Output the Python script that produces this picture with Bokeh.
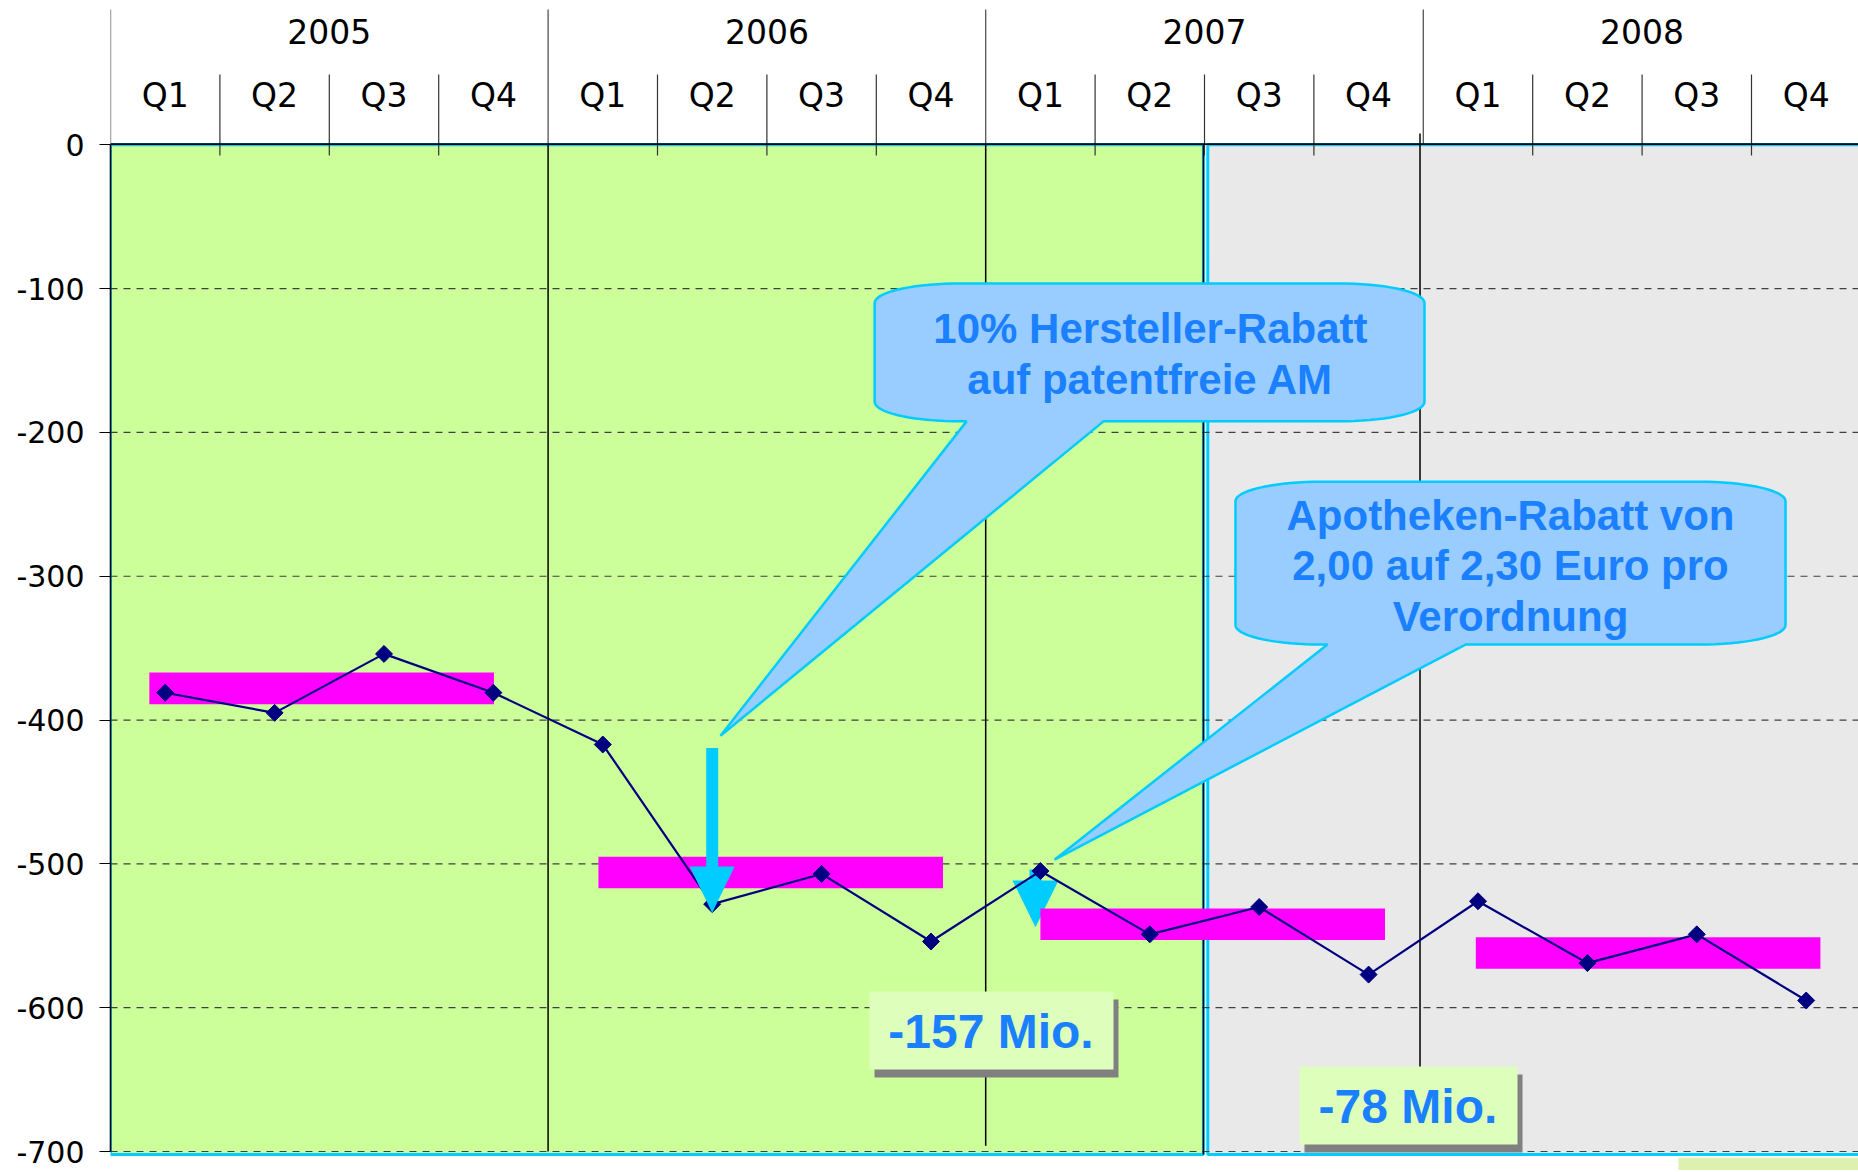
import numpy as np
from bokeh.plotting import figure
from bokeh.models import ColumnDataSource, Range1d, LinearAxis, FixedTicker
from bokeh.core.properties import value
from bokeh.embed import file_html
from bokeh.resources import INLINE

# ---------------- data ----------------
years = ["2005", "2006", "2007", "2008"]
quarters = ["Q1", "Q2", "Q3", "Q4"]
q_2005 = [-381, -395, -354, -381]
q_2006 = [-417, -528, -507, -554]
q_2007 = [-505, -549, -530, -577]
q_2008 = [-526, -569, -549, -595]
year_mean = [-378, -506, -542, -562]
y_ticks = [0, -100, -200, -300, -400, -500, -600, -700]
y_tick_labels = ["0", "-100", "-200", "-300", "-400", "-500", "-600", "-700"]
grid_levels = [-100, -200, -300, -400, -500, -600, -700]
callout_a = ["10% Hersteller-Rabatt", "auf patentfreie AM"]
callout_b = ["Apotheken-Rabatt von", "2,00 auf 2,30 Euro pro", "Verordnung"]
delta_labels = ["-157 Mio.", "-78 Mio."]

# ---------------- layout / style constants ----------------
W, H = 1858, 1170
LEFT = 110
ZERO_PX = 144.3          # page y of value 0
BOTTOM_PX = 1151.0       # page y of value -700
QPX = 109.4              # pixels per quarter
YPX = (BOTTOM_PX - ZERO_PX) / 700.0
X_END = (W - LEFT) / QPX
Y_TOP = ZERO_PX / YPX
Y_BOT = Y_TOP - H / YPX


def px_x(p):
    return p / QPX


def px_y(p):
    return p / YPX


def vy(page_y):
    return (ZERO_PX - page_y) / YPX


def qx(page_x):
    return (page_x - LEFT) / QPX


GREEN = "#CCFF99"
GRAY = "#E9E9E9"
CYAN = "#00CCFF"
MAGENTA = "#FF00FF"
NAVY = "#000080"
CALLOUT_FILL = "#99CCFF"
BLUE_TEXT = "#1A80FF"
BOX_FILL = "#DDFFBB"

values = q_2005 + q_2006 + q_2007 + q_2008
n_q = len(values)
xq = [i + 0.5 for i in range(n_q)]

p = figure(width=W, height=H, output_backend="svg", toolbar_location=None,
           x_range=Range1d(0, X_END), y_range=Range1d(Y_BOT, Y_TOP),
           x_axis_location=None, y_axis_location=None,
           min_border_left=LEFT, min_border_right=0, min_border_top=0, min_border_bottom=0)
p.outline_line_color = None
p.grid.visible = False
p.background_fill_color = "white"

# ---------------- background regions ----------------
GREEN_END = 10  # quarter boundary Q2/Q3 2007
p.quad(left=[0], right=[GREEN_END - 0.01], top=[0], bottom=[-702],
       fill_color=GREEN, line_color=CYAN, line_width=3)
p.quad(left=[GREEN_END + 0.03], right=[X_END + 1], top=[0], bottom=[-702],
       fill_color=GRAY, line_color=CYAN, line_width=3)
p.quad(left=[qx(1678)], right=[X_END + 1], top=[vy(1157)], bottom=[Y_BOT],
       fill_color="#DDF0B0", line_color=None)

# dashed gridlines
p.segment(x0=[0] * len(grid_levels), x1=[X_END + 1] * len(grid_levels),
          y0=grid_levels, y1=grid_levels, line_color="#404040", line_width=1.2,
          line_dash="7 6")

# vertical black lines in plot area
p.segment(x0=[4, 8, 11.97, GREEN_END - 0.01], x1=[4, 8, 11.97, GREEN_END - 0.01],
          y0=[0, 0, vy(133), 0], y1=[-700, -696, -700, -702],
          line_color="black", line_width=1.5)

# header separators
year_bounds = [4 * k for k in range(len(years) + 1)]
p.segment(x0=year_bounds, x1=year_bounds, y0=[vy(9)] * len(year_bounds), y1=[0] * len(year_bounds),
          line_color="#555555", line_width=1.3)
q_bounds = [i for i in range(1, n_q) if i % 4 != 0]
p.segment(x0=q_bounds, x1=q_bounds, y0=[vy(74)] * len(q_bounds), y1=[vy(155)] * len(q_bounds),
          line_color="#333333", line_width=1.2)

# top line at 0
p.segment(x0=[0], x1=[X_END + 1], y0=[0.5], y1=[0.5], line_color="black", line_width=1.6)

# header labels (y = cap centre)
p.text(x=[4 * k + 2 for k in range(len(years))], y=[vy(30.5)] * len(years), text=years,
       text_font=value("DejaVu Sans"), text_font_size=value("33px"),
       text_align="center", text_baseline="middle", text_color="black")
p.text(x=xq, y=[vy(95)] * n_q, text=quarters * len(years),
       text_font=value("DejaVu Sans"), text_font_size=value("33px"),
       text_align="center", text_baseline="middle", text_color="black")


# ---------------- arrows ----------------
def arrow(x, shaft_top, head_top, tip, shaft_hw_px=6, head_hw_px=22.5):
    sw, hw = px_x(shaft_hw_px), px_x(head_hw_px)
    xs = [x - sw, x + sw, x + sw, x + hw, x, x - hw, x - sw]
    ys = [shaft_top, shaft_top, head_top, head_top, tip, head_top, head_top]
    return xs, ys


# arrow at Q1 2007 (below the bars)
a2x, a2y = arrow(xq[8] - 0.045, values[8] + 1, values[8] - 6.5, values[8] - 39, head_hw_px=23)
p.patch(a2x, a2y, fill_color=CYAN, line_color=None)

# ---------------- yearly mean bars ----------------
bar_offsets = [-0.145, -0.04, 0.0, -0.02]
BAR_LEN = 3.15
BAR_HALF = 11
b_left = [4 * k + 0.5 + bar_offsets[k] for k in range(len(years))]
p.quad(left=b_left, right=[b + BAR_LEN for b in b_left],
       top=[m + BAR_HALF for m in year_mean], bottom=[m - BAR_HALF for m in year_mean],
       fill_color=MAGENTA, line_color=None)

# ---------------- series ----------------
src = ColumnDataSource(dict(x=xq, y=values))
p.line("x", "y", source=src, line_color=NAVY, line_width=2.2)
p.scatter("x", "y", source=src, marker="square", size=12, angle=np.pi / 4,
          fill_color=NAVY, line_color=NAVY)

# arrow at Q2 2006 (on top)
a1x, a1y = arrow(xq[5], -419.5, -501.9, values[5] - 6)
p.patch(a1x, a1y, fill_color=CYAN, line_color=None)

# ---------------- delta boxes ----------------
box_x = [qx(991), qx(1408)]
box_y = [vy(1030), vy(1105)]
box_w = [244, 218]
sh_dx, sh_dy = px_x(5), -px_y(8)
p.rect(x=[b + sh_dx for b in box_x], y=[b + sh_dy for b in box_y], width=box_w,
       height=[78, 78], width_units="screen", height_units="screen",
       fill_color="#808080", line_color=None)
p.rect(x=box_x, y=box_y, width=box_w, height=[78, 78], width_units="screen",
       height_units="screen", fill_color=BOX_FILL, line_color=None)
p.text(x=[b - 0.005 for b in box_x], y=[b - px_y(0.7) for b in box_y], text=delta_labels,
       text_font=value("Liberation Sans"), text_font_size=value("48px"), text_font_style="bold",
       text_align="center", text_baseline="middle", text_color=BLUE_TEXT)


# ---------------- callouts ----------------
def callout(x0, x1, yt, yb, tx0, tx1, tipx, tipy):
    rx, ry = px_x(86), px_y(19.5)
    n = 18
    pts = []
    for t in np.linspace(np.pi / 2, 0, n):
        pts.append((x1 - rx + rx * np.cos(t), yt - ry + ry * np.sin(t)))
    for t in np.linspace(0, -np.pi / 2, n):
        pts.append((x1 - rx + rx * np.cos(t), yb + ry + ry * np.sin(t)))
    pts += [(tx1, yb), (tipx, tipy), (tx0, yb)]
    for t in np.linspace(-np.pi / 2, -np.pi, n):
        pts.append((x0 + rx + rx * np.cos(t), yb + ry + ry * np.sin(t)))
    for t in np.linspace(np.pi, np.pi / 2, n):
        pts.append((x0 + rx + rx * np.cos(t), yt - ry + ry * np.sin(t)))
    return [q[0] for q in pts], [q[1] for q in pts]


c1x, c1y = callout(6.985, 12.011, -96.4, -192.3, 7.825, 9.077, 5.576, -410.9)
p.patch(c1x, c1y, fill_color=CALLOUT_FILL, line_color=CYAN, line_width=2.5)
c2x, c2y = callout(10.283, 15.311, -234.3, -347.5, 11.124, 12.386, 8.629, -497.1)
p.patch(c2x, c2y, fill_color=CALLOUT_FILL, line_color=CYAN, line_width=2.5)

p.text(x=[9.506] * len(callout_a), y=[-127.5, -163.4], text=callout_a,
       text_font=value("Liberation Sans"), text_font_size=value("42px"), text_font_style="bold",
       text_align="center", text_baseline="middle", text_color=BLUE_TEXT)
p.text(x=[12.797] * len(callout_b), y=[-258.0, -292.8, -328.2], text=callout_b,
       text_font=value("Liberation Sans"), text_font_size=value("42px"), text_font_style="bold",
       text_align="center", text_baseline="middle", text_color=BLUE_TEXT)

# ---------------- y axis ----------------
yaxis = LinearAxis(ticker=FixedTicker(ticks=y_ticks), bounds=(-700, 0))
yaxis.major_label_overrides = {t: l for t, l in zip(y_ticks, y_tick_labels)}
yaxis.major_label_text_font = "DejaVu Sans"
yaxis.major_label_text_font_size = "30px"
yaxis.major_label_text_color = "black"
yaxis.major_label_standoff = 15
yaxis.major_tick_out = 11
yaxis.major_tick_in = 0
yaxis.minor_tick_out = 0
yaxis.minor_tick_in = 0
yaxis.axis_line_color = "black"
yaxis.axis_line_width = 1.6
yaxis.major_tick_line_color = "black"
yaxis.major_tick_line_width = 1.2
p.add_layout(yaxis, "left")

open("out.html", "w").write(file_html(p, INLINE))
